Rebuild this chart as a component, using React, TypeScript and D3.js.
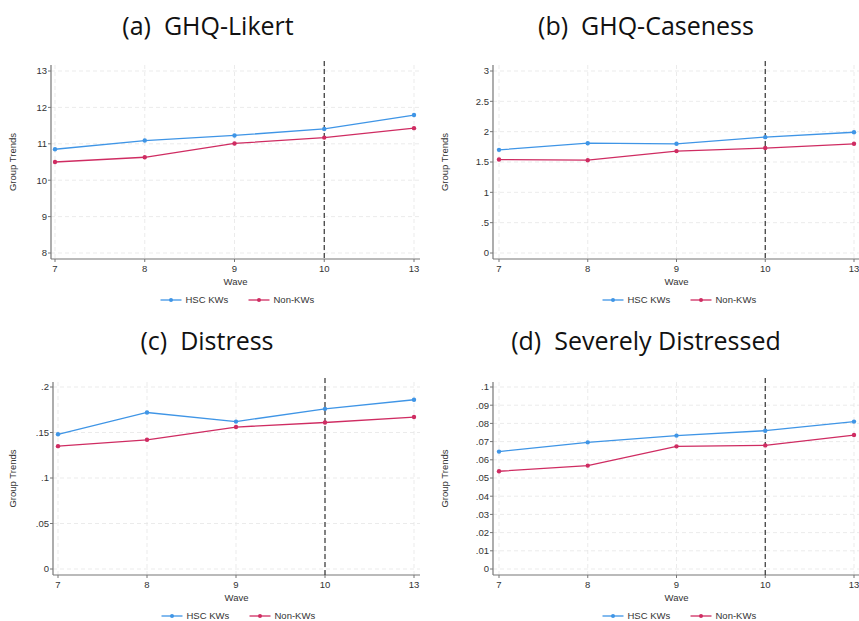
import React from 'react';
import * as d3 from 'd3';

// waves on the x axis (categorical, evenly spaced)
const waves = ['7', '8', '9', '10', '13'];
const markerWave = '10';
const seriesNames = ['HSC KWs', 'Non-KWs'];

// (a) GHQ-Likert
const likertHSC = [10.85, 11.09, 11.23, 11.41, 11.79];
const likertNon = [10.5, 10.63, 11.01, 11.17, 11.43];
const likertTicks = [8, 9, 10, 11, 12, 13];

// (b) GHQ-Caseness
const caseHSC = [1.70, 1.81, 1.80, 1.91, 1.99];
const caseNon = [1.54, 1.53, 1.68, 1.73, 1.80];
const caseTicks = [0, 0.5, 1, 1.5, 2, 2.5, 3];

// (c) Distress
const distHSC = [0.148, 0.172, 0.162, 0.176, 0.186];
const distNon = [0.135, 0.142, 0.156, 0.161, 0.167];
const distTicks = [0, 0.05, 0.1, 0.15, 0.2];

// (d) Severely Distressed
const sevHSC = [0.0645, 0.0696, 0.0733, 0.076, 0.081];
const sevNon = [0.0537, 0.0568, 0.0674, 0.0679, 0.0736];
const sevTicks = [0, 0.01, 0.02, 0.03, 0.04, 0.05, 0.06, 0.07, 0.08, 0.09, 0.1];

const blue = '#3f95e6';
const red = '#cf2c62';
const font = 'Liberation Sans, Arial, sans-serif';

// stata style: drop the leading zero
const fmt = (v: number) => {
  const s = d3.format('~g')(+v.toFixed(4));
  return s.replace(/^0\./, '.');
};

type PanelProps = {
  title: string;
  hsc: number[];
  non: number[];
  ticks: number[];
  ox: number; // left of panel
  titleX: number;
  axisX: number;
  x0: number;
  x1: number;
  right: number;
  top: number;
  yTop: number;
  yBot: number;
  axisY: number;
  titleY: number;
};

const Panel = (p: PanelProps) => {
  const x = d3.scalePoint<string>().domain(waves).range([p.x0, p.x1]);
  const y = d3
    .scaleLinear()
    .domain([p.ticks[0], p.ticks[p.ticks.length - 1]])
    .range([p.yBot, p.yTop]);
  const line = d3
    .line<number>()
    .x((_, i) => x(waves[i]) as number)
    .y(d => y(d));
  const cx = (p.axisX + Math.min(p.right, 860)) / 2;
  const midY = (p.top + p.axisY) / 2;
  const legY = p.axisY + 41;
  const legX = (p.axisX + p.right) / 2;

  return (
    <g>
      <text
        x={p.titleX}
        y={p.titleY}
        textAnchor="middle"
        fontFamily="Open Sans, sans-serif"
        fontSize={25}
        fill="#111"
        style={{ whiteSpace: 'pre' }}
      >
        {p.title}
      </text>
      {/* grid */}
      {p.ticks.map(t => (
        <line
          key={'h' + t}
          x1={p.axisX}
          x2={p.right}
          y1={y(t)}
          y2={y(t)}
          stroke="#e6e6e6"
          strokeDasharray="4,3"
          strokeWidth={0.8}
        />
      ))}
      {waves.map(w => (
        <line
          key={'v' + w}
          x1={x(w)}
          x2={x(w)}
          y1={p.top}
          y2={p.axisY}
          stroke="#e6e6e6"
          strokeDasharray="4,3"
          strokeWidth={0.8}
        />
      ))}
      {/* axes */}
      <line x1={p.axisX} x2={p.axisX} y1={p.top} y2={p.axisY} stroke="#777" strokeWidth={1.2} />
      <line x1={p.axisX} x2={p.right} y1={p.axisY} y2={p.axisY} stroke="#777" strokeWidth={1.2} />
      {p.ticks.map(t => (
        <g key={'yt' + t}>
          <line x1={p.axisX - 3} x2={p.axisX} y1={y(t)} y2={y(t)} stroke="#777" />
          <text
            x={p.axisX - 4}
            y={y(t)}
            dy="0.35em"
            textAnchor="end"
            fontFamily={font}
            fontSize={9.5}
            fill="#333"
          >
            {fmt(t)}
          </text>
        </g>
      ))}
      {waves.map(w => (
        <g key={'xt' + w}>
          <line x1={x(w)} x2={x(w)} y1={p.axisY} y2={p.axisY + 3} stroke="#777" />
          <text
            x={x(w)}
            y={p.axisY + 13}
            textAnchor="middle"
            fontFamily={font}
            fontSize={9.5}
            fill="#333"
          >
            {w}
          </text>
        </g>
      ))}
      <text
        x={cx}
        y={p.axisY + 26}
        textAnchor="middle"
        fontFamily={font}
        fontSize={9.5}
        fill="#333"
      >
        Wave
      </text>
      <text
        transform={`translate(${p.ox + 16},${midY}) rotate(-90)`}
        textAnchor="middle"
        fontFamily={font}
        fontSize={9.5}
        fill="#333"
      >
        Group Trends
      </text>
      {/* reference line */}
      <line
        x1={x(markerWave)}
        x2={x(markerWave)}
        y1={p.top - 4}
        y2={p.axisY}
        stroke="#333"
        strokeWidth={1.2}
        strokeDasharray="5,3"
      />
      {/* series */}
      {[p.hsc, p.non].map((s, k) => (
        <g key={'s' + k}>
          <path d={line(s) || ''} fill="none" stroke={k ? red : blue} strokeWidth={1.3} />
          {s.map((v, i) => (
            <circle key={i} cx={x(waves[i])} cy={y(v)} r={2.2} fill={k ? red : blue} />
          ))}
        </g>
      ))}
      {/* legend */}
      {seriesNames.map((n, k) => {
        const lx = legX - 75 + k * 88;
        return (
          <g key={n}>
            <line x1={lx} x2={lx + 21} y1={legY} y2={legY} stroke={k ? red : blue} strokeWidth={1.3} />
            <circle cx={lx + 10.5} cy={legY} r={2} fill={k ? red : blue} />
            <text x={lx + 25} y={legY} dy="0.35em" fontFamily={font} fontSize={9.5} fill="#333">
              {n}
            </text>
          </g>
        );
      })}
    </g>
  );
};

const App = () => {
  return (
    <svg
      width={859}
      height={621}
      style={{ position: 'absolute', left: 0, top: 0, background: '#fff' }}
      fontFamily={font}
    >
      <Panel
        title="(a)  GHQ-Likert"
        hsc={likertHSC}
        non={likertNon}
        ticks={likertTicks}
        ox={0}
        titleX={208}
        axisX={51}
        x0={55}
        x1={414}
        right={420}
        top={65}
        yTop={71}
        yBot={253}
        axisY={259}
        titleY={35}
      />
      <Panel
        title="(b)  GHQ-Caseness"
        hsc={caseHSC}
        non={caseNon}
        ticks={caseTicks}
        ox={432}
        titleX={646}
        axisX={493}
        x0={499}
        x1={854}
        right={862}
        top={65}
        yTop={71}
        yBot={253}
        axisY={259}
        titleY={35}
      />
      <Panel
        title="(c)  Distress"
        hsc={distHSC}
        non={distNon}
        ticks={distTicks}
        ox={0}
        titleX={207}
        axisX={53}
        x0={58}
        x1={414}
        right={420}
        top={382}
        yTop={387}
        yBot={569}
        axisY={575}
        titleY={350}
      />
      <Panel
        title="(d)  Severely Distressed"
        hsc={sevHSC}
        non={sevNon}
        ticks={sevTicks}
        ox={432}
        titleX={646}
        axisX={493}
        x0={499}
        x1={854}
        right={862}
        top={382}
        yTop={387}
        yBot={569}
        axisY={575}
        titleY={350}
      />
    </svg>
  );
};

export default App;
